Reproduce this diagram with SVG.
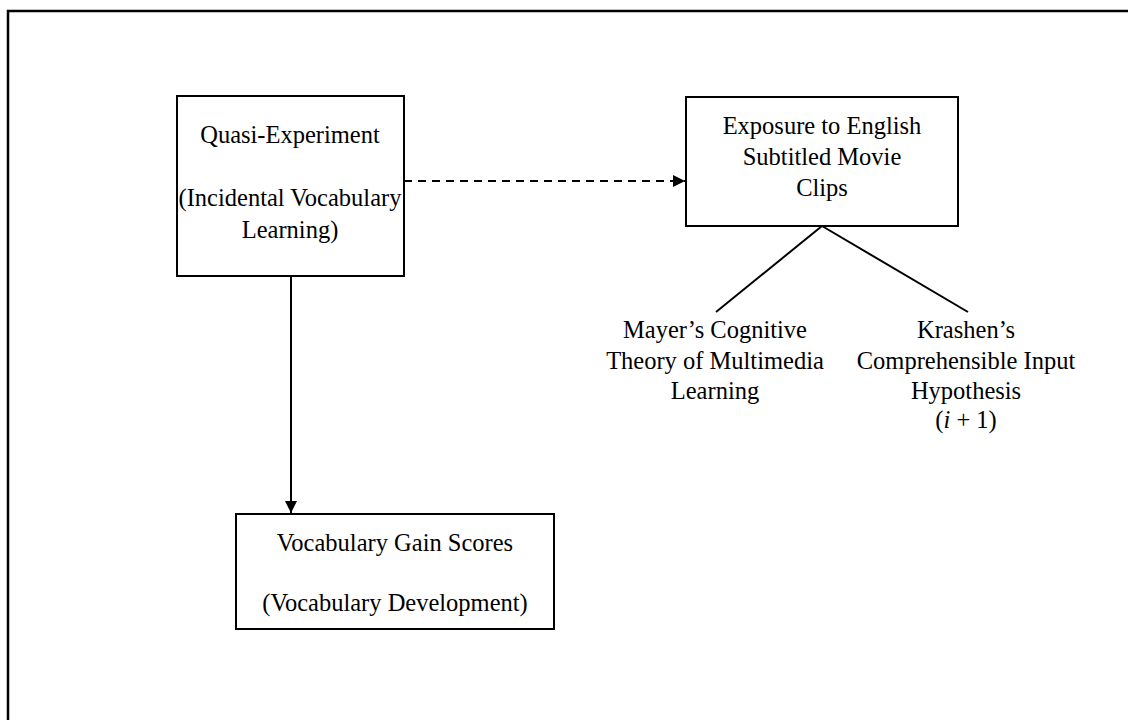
<svg xmlns="http://www.w3.org/2000/svg" width="1128" height="720" viewBox="0 0 1128 720">
<style>
.box{fill:#fff;stroke:#000;stroke-width:2}
.t{font-family:"Liberation Serif","Times New Roman",serif;font-size:24.5px;fill:#000;text-anchor:middle}
.ln{stroke:#000;stroke-width:2;fill:none}
</style>
<defs>
<marker id="ah" viewBox="0 0 10 10" refX="10" refY="5" markerWidth="6" markerHeight="6" orient="auto" markerUnits="strokeWidth">
<path d="M0,0 L10,5 L0,10 z" fill="#000"/>
</marker>
</defs>
<rect x="0" y="0" width="1128" height="720" fill="#fff"/>
<rect x="8" y="11" width="1140" height="730" fill="none" stroke="#000" stroke-width="2.5"/>
<g id="connectors">
<line class="ln" x1="404" y1="181" x2="685" y2="181" stroke-dasharray="8,6" marker-end="url(#ah)"/>
<line class="ln" x1="291" y1="277" x2="291" y2="513" marker-end="url(#ah)"/>
<line class="ln" x1="822" y1="226" x2="716" y2="312" stroke-width="1.5"/>
<line class="ln" x1="822" y1="226" x2="968" y2="312" stroke-width="1.5"/>
</g>
<g id="n1">
<rect class="box" x="177" y="96" width="227" height="180"/>
<text class="t" x="290" y="143">Quasi-Experiment</text>
<text class="t" x="290" y="206">(Incidental Vocabulary</text>
<text class="t" x="290" y="238">Learning)</text>
</g>
<g id="n2">
<rect class="box" x="686" y="97" width="272" height="129"/>
<text class="t" x="822" y="134">Exposure to English</text>
<text class="t" x="822" y="165">Subtitled Movie</text>
<text class="t" x="822" y="196">Clips</text>
</g>
<g id="n3">
<rect class="box" x="236" y="514" width="318" height="115"/>
<text class="t" x="395" y="551">Vocabulary Gain Scores</text>
<text class="t" x="395" y="611">(Vocabulary Development)</text>
</g>
<g id="n4">
<text class="t" x="715" y="338">Mayer’s Cognitive</text>
<text class="t" x="715" y="369">Theory of Multimedia</text>
<text class="t" x="715" y="399">Learning</text>
</g>
<g id="n5">
<text class="t" x="966" y="338">Krashen’s</text>
<text class="t" x="966" y="369">Comprehensible Input</text>
<text class="t" x="966" y="399">Hypothesis</text>
<text class="t" x="966" y="428">(<tspan font-style="italic">i</tspan> + 1)</text>
</g>
</svg>
